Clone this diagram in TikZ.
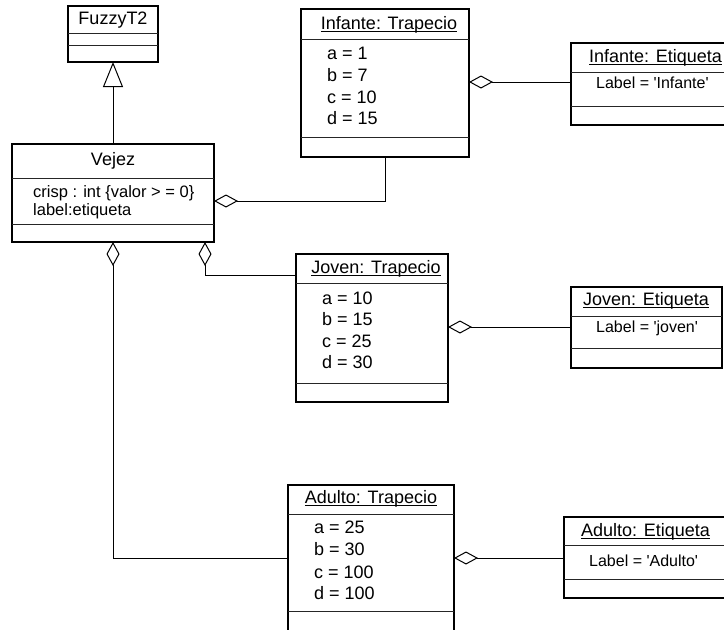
\documentclass[tikz,border=0pt]{standalone}
\usepackage{fontspec}
\setmainfont{Liberation Sans}
\usetikzlibrary{arrows.meta}
\newcommand{\ulname}[1]{\underline{\raisebox{0pt}[\height][0.5pt]{#1}}}
\begin{document}
\begin{tikzpicture}[x=1pt,y=-1pt,
  cls/.style={draw, line width=1.1pt, inner sep=0pt, outer sep=0pt, anchor=north west},
  sepline/.style={line width=1pt, draw=black!85},
  basel/.style={line width=2.2pt},
  ttl/.style={inner sep=0pt, font=\fontsize{18}{22}\selectfont},
  ttlw/.style={inner sep=0pt, anchor=west, font=\fontsize{18}{22}\selectfont},
  att/.style={inner sep=0pt, anchor=west, font=\fontsize{18}{22}\selectfont},
  vatt/.style={inner sep=0pt, anchor=west, font=\fontsize{16.5}{20}\selectfont},
  lbl/.style={inner sep=0pt, anchor=west, font=\fontsize{16}{20}\selectfont},
  conn/.style={line width=1pt},
  agg/.style={conn, -{Diamond[open, length=24pt, width=13pt, line width=1pt]}},
  gen/.style={conn, -{Triangle[open, length=25pt, width=20pt, line width=1pt]}}
]
\useasboundingbox (0,0) rectangle (724,630);
\clip (0,0) rectangle (724,630);

% FuzzyT2
\node[cls, minimum width=90pt, minimum height=56pt] (fz) at (68,6) {};
\draw[sepline] (fz.west |- 0,33) -- (fz.east |- 0,33);
\draw[sepline] (fz.west |- 0,45) -- (fz.east |- 0,45);
\draw[basel] (fz.south west) -- (fz.south east);
\node[ttl] (fzt) at (113,20) {FuzzyT2};

% Vejez
\node[cls, minimum width=202pt, minimum height=98pt] (vej) at (12,144) {};
\draw[sepline] (vej.west |- 0,178) -- (vej.east |- 0,178);
\draw[sepline] (vej.west |- 0,224) -- (vej.east |- 0,224);
\draw[basel] (vej.south west) -- (vej.south east);
\node[ttl] (vejt) at (113,161) {Vejez};
\node[vatt] (veja1) at (33,193) {crisp : int \{valor > = 0\}};
\node[vatt] (veja2) at (33,211) {label:etiqueta};

% Infante: Trapecio
\node[cls, minimum width=168pt, minimum height=148pt] (itr) at (301,9) {};
\draw[sepline] (itr.west |- 0,39) -- (itr.east |- 0,39);
\draw[sepline] (itr.west |- 0,137) -- (itr.east |- 0,137);
\draw[basel] (itr.south west) -- (itr.south east);
\node[ttl] (itrt) at (389,24) {\ulname{Infante: Trapecio}};
\node[att] (itra) at (327,53) {a = 1};
\node[att] (itrb) at (327,75) {b = 7};
\node[att] (itrc) at (327,97) {c = 10};
\node[att] (itrd) at (327,118) {d = 15};

% Infante: Etiqueta
\node[cls, minimum width=171pt, minimum height=82pt] (iet) at (571,43) {};
\draw[sepline] (iet.west |- 0,72) -- (iet.east |- 0,72);
\draw[sepline] (iet.west |- 0,106) -- (iet.east |- 0,106);
\draw[basel] (iet.south west) -- (iet.south east);
\node[ttlw] (iett) at (589,57) {\ulname{Infante: Etiqueta}};
\node[lbl] (ietl) at (596,83) {Label = \textquotesingle Infante\textquotesingle};

% Joven: Trapecio
\node[cls, minimum width=152pt, minimum height=148pt] (jtr) at (296,254) {};
\draw[sepline] (jtr.west |- 0,283) -- (jtr.east |- 0,283);
\draw[sepline] (jtr.west |- 0,383) -- (jtr.east |- 0,383);
\draw[basel] (jtr.south west) -- (jtr.south east);
\node[ttl] (jtrt) at (376,268) {\ulname{Joven: Trapecio}};
\node[att] (jtra) at (322,298) {a = 10};
\node[att] (jtrb) at (322,319) {b = 15};
\node[att] (jtrc) at (322,341) {c = 25};
\node[att] (jtrd) at (322,362) {d = 30};

% Joven: Etiqueta
\node[cls, minimum width=151pt, minimum height=81pt] (jet) at (571,287) {};
\draw[sepline] (jet.west |- 0,316) -- (jet.east |- 0,316);
\draw[sepline] (jet.west |- 0,348) -- (jet.east |- 0,348);
\draw[basel] (jet.south west) -- (jet.south east);
\node[ttlw] (jett) at (583,300) {\ulname{Joven: Etiqueta}};
\node[lbl] (jetl) at (596,328) {Label = \textquotesingle joven\textquotesingle};

% Adulto: Trapecio
\node[cls, minimum width=166pt, minimum height=155pt] (atr) at (288,485) {};
\draw[sepline] (atr.west |- 0,514) -- (atr.east |- 0,514);
\draw[sepline] (atr.west |- 0,611) -- (atr.east |- 0,611);
\node[ttl] (atrt) at (371,498) {\ulname{Adulto: Trapecio}};
\node[att] (atra) at (314,527) {a = 25};
\node[att] (atrb) at (314,549) {b = 30};
\node[att] (atrc) at (314,572) {c = 100};
\node[att] (atrd) at (314,593) {d = 100};

% Adulto: Etiqueta
\node[cls, minimum width=174pt, minimum height=81pt] (aet) at (564,517) {};
\draw[sepline] (aet.west |- 0,545) -- (aet.east |- 0,545);
\draw[sepline] (aet.west |- 0,579) -- (aet.east |- 0,579);
\draw[basel] (aet.south west) -- (aet.south east);
\node[ttlw] (aett) at (581,531) {\ulname{Adulto: Etiqueta}};
\node[lbl] (aetl) at (589,561) {Label = \textquotesingle Adulto\textquotesingle};

% connectors
\draw[gen] (vej.north) -- (fz.south);
\draw[agg] (itr.south) |- (vej.east |- 0,201);
\draw[agg] (iet.west |- 0,82) -- (itr.east |- 0,82);
\draw[agg] (jtr.west |- 0,275) -| (vej.south -| 205,0);
\draw[agg] (jet.west |- 0,327) -- (jtr.east |- 0,327);
\draw[agg] (atr.west |- 0,558) -| (vej.south);
\draw[agg] (aet.west |- 0,558) -- (atr.east |- 0,558);
\end{tikzpicture}
\end{document}
